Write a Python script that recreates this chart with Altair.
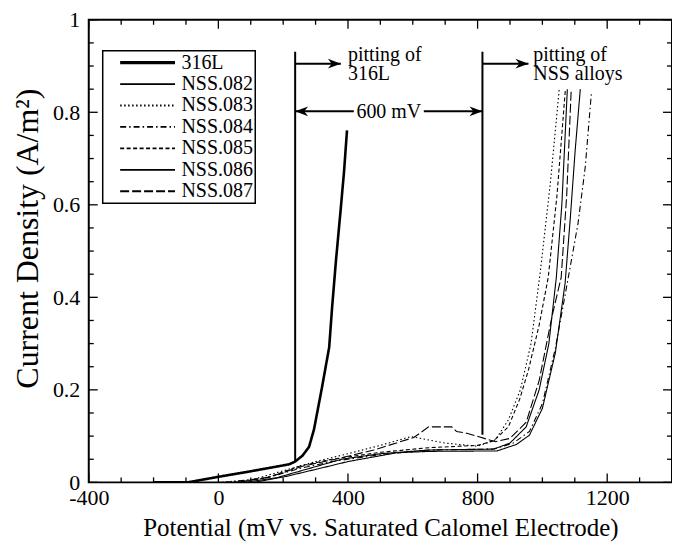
import altair as alt
import pandas as pd

FONT = "Liberation Serif"

series_names = ["316L", "NSS.082", "NSS.083", "NSS.084", "NSS.085", "NSS.086", "NSS.087"]

x_316L = [-200, -95, 0, 100, 218, 237, 260, 280, 295, 320, 342, 351, 363, 378, 388, 397]
y_316L = [0.0, 0.0, 0.012, 0.024, 0.039, 0.045, 0.058, 0.077, 0.114, 0.206, 0.292, 0.378, 0.48, 0.594, 0.673, 0.761]

x_082 = [110, 210, 300, 400, 550, 650, 860, 920, 960, 1000, 1040, 1070, 1086, 1101, 1117]
y_082 = [0.0, 0.013, 0.028, 0.045, 0.064, 0.067, 0.068, 0.082, 0.102, 0.16, 0.28, 0.43, 0.57, 0.716, 0.85]

x_083 = [0, 100, 200, 300, 400, 500, 594, 700, 800, 855, 895, 932, 965, 994, 1025, 1052]
y_083 = [0.0, 0.005, 0.025, 0.045, 0.062, 0.08, 0.099, 0.085, 0.078, 0.092, 0.135, 0.2, 0.3, 0.458, 0.65, 0.85]

x_084 = [20, 150, 250, 350, 500, 650, 850, 910, 960, 1000, 1040, 1080, 1110, 1132, 1151]
y_084 = [0.0, 0.01, 0.03, 0.045, 0.06, 0.07, 0.072, 0.085, 0.11, 0.17, 0.29, 0.443, 0.56, 0.68, 0.84]

x_085 = [50, 150, 250, 350, 500, 650, 800, 850, 895, 930, 957, 990, 1018, 1045, 1071]
y_085 = [0.0, 0.01, 0.035, 0.05, 0.065, 0.075, 0.08, 0.09, 0.12, 0.18, 0.243, 0.34, 0.443, 0.62, 0.85]

x_086 = [80, 180, 280, 380, 500, 650, 850, 900, 950, 990, 1020, 1043, 1060, 1077]
y_086 = [0.0, 0.01, 0.03, 0.05, 0.062, 0.07, 0.072, 0.085, 0.12, 0.2, 0.3, 0.443, 0.6, 0.85]

x_087 = [60, 160, 260, 360, 480, 603, 649, 720, 735, 763, 855, 900, 950, 990, 1030, 1058, 1075, 1089]
y_087 = [0.0, 0.012, 0.035, 0.05, 0.07, 0.097, 0.12, 0.12, 0.11, 0.107, 0.088, 0.095, 0.13, 0.22, 0.36, 0.443, 0.62, 0.85]

xs = [x_316L, x_082, x_083, x_084, x_085, x_086, x_087]
ys = [y_316L, y_082, y_083, y_084, y_085, y_086, y_087]

rows = []
for name, xv, yv in zip(series_names, xs, ys):
    for i, (a, b) in enumerate(zip(xv, yv)):
        rows.append({"series": name, "x": a, "y": b, "idx": i})
df = pd.DataFrame(rows)

dash_range = [[1, 0], [1, 0], [1.5, 2.5], [6, 3, 1.5, 3], [4, 2.5], [1, 0], [9, 3]]

# annotation segments
seg_x1 = [237, 815, 237, 815, 237, 634]
seg_x2 = [237, 815, 378, 957, 418, 815]
seg_y1 = [0.045, 0.103, 0.905, 0.905, 0.802, 0.802]
seg_y2 = [0.931, 0.931, 0.905, 0.905, 0.802, 0.802]
seg_df = pd.DataFrame({"x1": seg_x1, "x2": seg_x2, "y1": seg_y1, "y2": seg_y2})

arrow_x = [378, 957, 237, 815]
arrow_y = [0.905, 0.905, 0.802, 0.802]
arrow_ang = [0, 0, 180, 0]
arrow_df = pd.DataFrame({"x": arrow_x, "y": arrow_y, "ang": arrow_ang})

text_label = ["pitting of", "316L", "pitting of", "NSS alloys"]
text_x = [400, 400, 972, 972]
text_y = [0.91, 0.869, 0.91, 0.869]
text_df = pd.DataFrame({"t": text_label, "x": text_x, "y": text_y})

mid_label = ["600 mV"]
mid_x = [526]
mid_y = [0.787]
mid_df = pd.DataFrame({"t": mid_label, "x": mid_x, "y": mid_y})

x_major = [-400, 0, 400, 800, 1200]
x_minor = [-300, -200, -100, 100, 200, 300, 500, 600, 700, 900, 1000, 1100, 1300]
y_major = [0, 0.2, 0.4, 0.6, 0.8, 1]
y_minor = [0.05, 0.1, 0.15, 0.25, 0.3, 0.35, 0.45, 0.5, 0.55, 0.65, 0.7, 0.75, 0.85, 0.9, 0.95]

W, H = 585, 464
xscale = alt.Scale(domain=[-400, 1400], nice=False, zero=False)
yscale = alt.Scale(domain=[0, 1], nice=False, zero=False)

MAJ, MIN = 9, 5

x_axis = alt.Axis(
    orient="bottom", values=x_major, labelExpr="'' + datum.value", ticks=False, domain=False,
    grid=False, labelFont=FONT, labelFontSize=22, labelColor="black", labelPadding=5,
    labelFlush=False, labelOverlap=False,
    title="Potential (mV vs. Saturated Calomel Electrode)", titleFont=FONT, titleFontSize=25,
    titleFontWeight="normal", titleColor="black", titlePadding=7)
y_axis = alt.Axis(
    orient="left", values=y_major, labelExpr="'' + datum.value", ticks=False, domain=False,
    grid=False, labelFont=FONT, labelFontSize=22, labelColor="black", labelPadding=9,
    labelFlush=False, labelOverlap=False,
    title="Current Density (A/m²)", titleFont=FONT, titleFontSize=32, titleY=219,
    titleFontWeight="normal", titleColor="black", titlePadding=8)

lines = alt.Chart(df).mark_line(color="black", clip=True).encode(
    x=alt.X("x:Q", scale=xscale, axis=x_axis),
    y=alt.Y("y:Q", scale=yscale, axis=y_axis),
    strokeDash=alt.StrokeDash("series:N", scale=alt.Scale(domain=series_names, range=dash_range),
                              legend=alt.Legend(
                                  title=None, orient="none", legendX=14, legendY=31,
                                  symbolType="M-5,0L5,0", symbolSize=121, symbolOffset=33,
                                  labelOffset=24, labelFont=FONT, labelFontSize=20,
                                  labelColor="black", padding=2, rowPadding=1.5,
                                  strokeColor="black", symbolStrokeColor="black",
                                  symbolStrokeWidth=alt.ExprRef(expr="datum.value === '316L' ? 3.2 : 1.8"))),
    strokeWidth=alt.condition(alt.datum.series == "316L", alt.value(2.6), alt.value(1.1)),
    order="idx:Q",
)

segs = alt.Chart(seg_df).mark_rule(color="black", strokeWidth=2).encode(
    x=alt.X("x1:Q", scale=xscale, axis=None), x2="x2:Q",
    y=alt.Y("y1:Q", scale=yscale, axis=None), y2="y2:Q",
)

arrows = alt.Chart(arrow_df).mark_point(
    shape="M0,0L-2,-0.75L-1.4,0L-2,0.75Z", filled=True, size=169, color="black", opacity=1
).encode(
    x=alt.X("x:Q", scale=xscale, axis=None),
    y=alt.Y("y:Q", scale=yscale, axis=None),
    angle=alt.Angle("ang:Q", scale=None),
)

texts = alt.Chart(text_df).mark_text(
    font=FONT, fontSize=20, align="left", baseline="alphabetic", color="black"
).encode(
    x=alt.X("x:Q", scale=xscale, axis=None),
    y=alt.Y("y:Q", scale=yscale, axis=None),
    text="t:N",
)

mid = alt.Chart(mid_df).mark_text(
    font=FONT, fontSize=20, align="center", baseline="alphabetic", color="black"
).encode(
    x=alt.X("x:Q", scale=xscale, axis=None),
    y=alt.Y("y:Q", scale=yscale, axis=None),
    text="t:N",
)


# inward ticks on all four sides, positioned through the shared scales
def xticks(values, y_from, y_to):
    return alt.Chart(pd.DataFrame({"v": values})).mark_rule(color="black", strokeWidth=1.3).encode(
        x=alt.X("v:Q", scale=xscale, axis=None),
        y=alt.value(y_from), y2=alt.value(y_to))


def yticks(values, x_from, x_to):
    return alt.Chart(pd.DataFrame({"v": values})).mark_rule(color="black", strokeWidth=1.3).encode(
        y=alt.Y("v:Q", scale=yscale, axis=None),
        x=alt.value(x_from), x2=alt.value(x_to))


tick_layers = [
    xticks(x_major, H, H - MAJ), xticks(x_minor, H, H - MIN),
    xticks(x_major, 0, MAJ), xticks(x_minor, 0, MIN),
    yticks(y_major, 0, MAJ), yticks(y_minor, 0, MIN),
    yticks(y_major, W, W - MAJ), yticks(y_minor, W, W - MIN),
]

chart = alt.layer(lines, segs, arrows, texts, mid, *tick_layers).resolve_axis(
    x="independent", y="independent"
).properties(
    width=W, height=H, autosize="none",
    padding={"left": 81, "top": 11, "right": 0, "bottom": 60},
    background="white",
).configure_view(stroke="black", strokeWidth=2).configure_legend(strokeWidth=1.5)

chart.save("out.html", embed_options={"renderer": "svg", "actions": False})
